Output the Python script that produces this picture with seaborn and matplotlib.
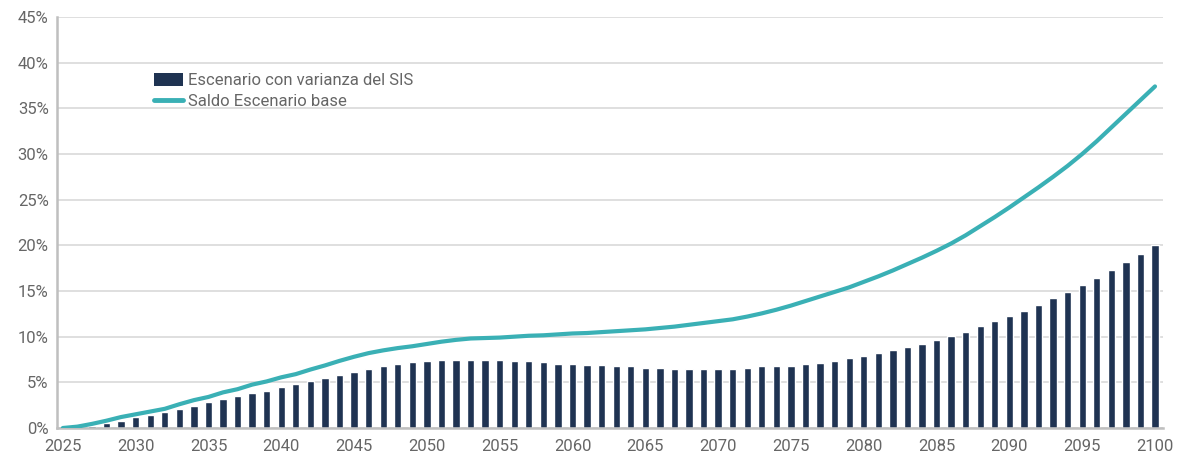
import matplotlib
matplotlib.use("Agg")
import matplotlib.pyplot as plt
import seaborn as sns
import pandas as pd
import numpy as np
from matplotlib.patches import Patch
from matplotlib.lines import Line2D
from matplotlib.ticker import FuncFormatter, MultipleLocator

years = list(range(2025, 2101))

bars = [0.0, 0.05, 0.26, 0.55, 0.8, 1.15, 1.4, 1.75, 2.07, 2.4,
        2.85, 3.2, 3.5, 3.85, 4.1, 4.45, 4.8, 5.15, 5.5, 5.8,
        6.15, 6.5, 6.8, 7.05, 7.2, 7.3, 7.4, 7.5, 7.5, 7.4,
        7.4, 7.3, 7.3, 7.2, 7.05, 7.0, 6.95, 6.85, 6.75, 6.75,
        6.6, 6.6, 6.5, 6.5, 6.5, 6.5, 6.5, 6.6, 6.75, 6.75,
        6.84, 7.06, 7.17, 7.39, 7.61, 7.87, 8.2, 8.53, 8.9, 9.23,
        9.67, 10.1, 10.55, 11.14, 11.69, 12.24, 12.8, 13.46, 14.2, 14.93,
        15.63, 16.4, 17.3, 18.2, 19.1, 20.0]

line = [0.0, 0.15, 0.45, 0.8, 1.2, 1.5, 1.8, 2.1, 2.6, 3.05,
        3.4, 3.9, 4.25, 4.75, 5.1, 5.55, 5.9, 6.4, 6.85, 7.35,
        7.8, 8.2, 8.5, 8.75, 8.95, 9.2, 9.45, 9.65, 9.8, 9.85,
        9.9, 10.0, 10.1, 10.15, 10.25, 10.35, 10.4, 10.5, 10.6, 10.7,
        10.8, 10.95, 11.1, 11.3, 11.5, 11.7, 11.9, 12.2, 12.55, 12.95,
        13.4, 13.9, 14.4, 14.9, 15.4, 16.0, 16.6, 17.25, 17.95, 18.65,
        19.4, 20.2, 21.1, 22.1, 23.1, 24.15, 25.25, 26.35, 27.5, 28.7,
        30.0, 31.4, 32.9, 34.4, 35.9, 37.4]

bar_label = "Escenario con varianza del SIS"
line_label = "Saldo Escenario base"
bar_color = "#1F3352"
line_color = "#3AB0B5"
text_color = "#666666"

df = pd.DataFrame({"year": years, "bar": bars, "line": line})

sns.set_theme(style="white")
plt.rcParams["font.family"] = ["Roboto", "DejaVu Sans"]

fig = plt.figure(figsize=(11.78, 4.61), dpi=100)
ax = fig.add_axes([57 / 1178, (461 - 428) / 461, (1163 - 57) / 1178, (428 - 17) / 461])

sns.barplot(data=df, x="year", y="bar", native_scale=True, width=0.5,
            color=bar_color, saturation=1, ax=ax, zorder=2)
sns.lineplot(data=df, x="year", y="line", color=line_color, linewidth=3.0,
             ax=ax, zorder=3)

ax.set_xlim(2024.6, 2100.55)
ax.set_ylim(0, 45)
ax.yaxis.set_major_locator(MultipleLocator(5))
ax.yaxis.set_major_formatter(FuncFormatter(lambda v, p: f"{v:.0f}%"))
ax.set_xticks(list(range(2025, 2101, 5)))
ax.set_xlabel("")
ax.set_ylabel("")
ax.grid(axis="y", color="#D9D9D9", linewidth=1.2, zorder=0)
ax.set_axisbelow(True)
ax.tick_params(axis="both", length=0, labelsize=12, colors=text_color)
ax.tick_params(axis="x", pad=8)
ax.tick_params(axis="y", pad=6)
for s in ["top", "right"]:
    ax.spines[s].set_visible(False)
for s in ["left", "bottom"]:
    ax.spines[s].set_color("#BFBFBF")
    ax.spines[s].set_linewidth(1.8)

handles = [Patch(facecolor=bar_color, edgecolor="none"),
           Line2D([0], [0], color=line_color, linewidth=3.5)]
leg = ax.legend(handles, [bar_label, line_label], loc="upper left",
                bbox_to_anchor=(0.074, 0.9), frameon=False, fontsize=12,
                handlelength=1.75, handleheight=0.8, labelspacing=0.35,
                handletextpad=0.3)
for t in leg.get_texts():
    t.set_color(text_color)

fig.savefig("out.png", dpi=100)
